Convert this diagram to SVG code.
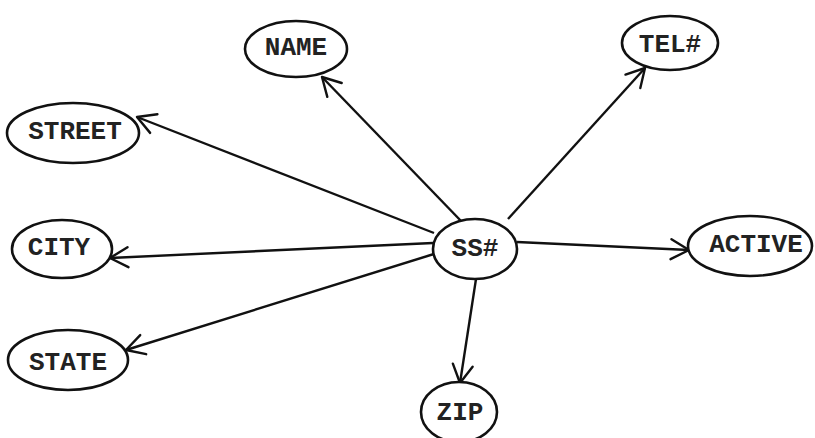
<svg xmlns="http://www.w3.org/2000/svg" width="815" height="438" viewBox="0 0 815 438">
<style>
.n ellipse{fill:#fff;stroke:#111;stroke-width:2.6}
.n text{font-family:"Liberation Mono","Courier New",monospace;font-size:26px;font-weight:bold;fill:#222;text-anchor:middle}
.e line{stroke:#111;stroke-width:2.4;fill:none}
</style>
<defs>
<marker id="ah" markerUnits="userSpaceOnUse" viewBox="-22 -12 24 24" refX="0" refY="0" markerWidth="24" markerHeight="24" orient="auto">
<path d="M-18,-10 L0,0 L-18,10" fill="none" stroke="#111" stroke-width="2.4" stroke-linecap="round" stroke-linejoin="round"/>
</marker>
</defs>
<rect width="815" height="438" fill="#fff"/>
<g id="connectors" class="e">
<line x1="462" y1="222" x2="322" y2="77" marker-end="url(#ah)"/>
<line x1="508" y1="219" x2="645" y2="68" marker-end="url(#ah)"/>
<line x1="434" y1="233" x2="137" y2="117" marker-end="url(#ah)"/>
<line x1="433" y1="243" x2="110" y2="258" marker-end="url(#ah)"/>
<line x1="437" y1="253" x2="126" y2="350" marker-end="url(#ah)"/>
<line x1="517" y1="242" x2="689" y2="250" marker-end="url(#ah)"/>
<line x1="476" y1="279" x2="460" y2="383" marker-end="url(#ah)"/>
</g>
<g id="node-ss" class="n"><ellipse cx="475" cy="249" rx="42" ry="30"/><text x="475" y="256">SS#</text></g>
<g id="node-name" class="n"><ellipse cx="296" cy="49" rx="51" ry="28"/><text x="296" y="55">NAME</text></g>
<g id="node-tel" class="n"><ellipse cx="670" cy="43" rx="48" ry="27"/><text x="670" y="52">TEL#</text></g>
<g id="node-street" class="n"><ellipse cx="73" cy="133" rx="66" ry="30"/><text x="75" y="139">STREET</text></g>
<g id="node-city" class="n"><ellipse cx="62" cy="249" rx="50" ry="29"/><text x="59" y="255">CITY</text></g>
<g id="node-active" class="n"><ellipse cx="750" cy="246" rx="62" ry="30"/><text x="756" y="252">ACTIVE</text></g>
<g id="node-state" class="n"><ellipse cx="68" cy="360" rx="60" ry="30"/><text x="68" y="370">STATE</text></g>
<g id="node-zip" class="n"><ellipse cx="459" cy="412" rx="38" ry="30"/><text x="460" y="420">ZIP</text></g>
</svg>
